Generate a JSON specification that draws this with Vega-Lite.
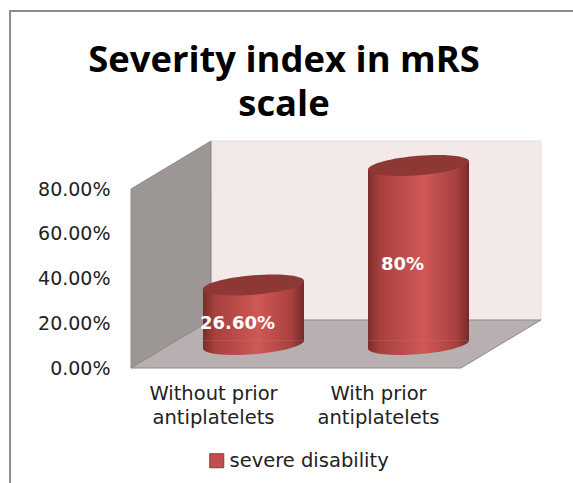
{
"$schema":"https://vega.github.io/schema/vega-lite/v6.json",
"width":330,"height":179,
"autosize":{"type":"none"},
"padding":{"left":131,"top":189,"right":112,"bottom":115},
"background":"#ffffff",
"config":{"view":{"stroke":null}},
"title":{"text":["Severity index in mRS","scale"],"font":"Open Sans","fontWeight":"bold","fontSize":36.4,"color":"#000000","anchor":"middle","frame":"group","dx":-12,"offset":-116,"lineHeight":44},
"datasets":{
"bars":[{"group":"Without prior antiplatelets","series":"severe disability","value":0.266,"label":"26.60%"},{"group":"With prior antiplatelets","series":"severe disability","value":0.8,"label":"80%"}],
"sidewall":[{"sx":0,"low":0,"high":0.8},{"sx":0.485,"low":0.2145,"high":1.0145}],
"backwall":[{"sx":0.485,"low":0.2145,"high":1.0145},{"sx":2.485,"low":0.2145,"high":1.0145}],
"floor":[{"sx":0,"low":0,"high":0},{"sx":0.485,"low":0,"high":0.2145},{"sx":2,"low":0,"high":0.2145},{"sx":2.485,"low":0.2145,"high":0.2145}],
"frame":[{"i":0,"sx":-0.733,"sy":-0.52},{"i":1,"sx":-0.733,"sy":1.5955},{"i":2,"sx":2.69,"sy":1.5955}]
},
"resolve":{"scale":{"x":"independent"}},
"layer":[
{"layer":[
{"data":{"name":"backwall"},"mark":{"type":"area","fill":"#f4e9e9","stroke":"#e4dcdc","strokeWidth":1},
"encoding":{"x":{"field":"sx","type":"quantitative","axis":null,"scale":{"domain":[0,2],"nice":false,"zero":false}},"y":{"field":"low","type":"quantitative","scale":{"domain":[0,0.8],"nice":false}},"y2":{"field":"high"}}},
{"data":{"name":"sidewall"},"mark":{"type":"area","fill":"#9c9695","stroke":"#8f8a8a","strokeWidth":1},
"encoding":{"x":{"field":"sx","type":"quantitative","axis":null,"scale":{"domain":[0,2],"nice":false,"zero":false}},"y":{"field":"low","type":"quantitative","scale":{"domain":[0,0.8],"nice":false}},"y2":{"field":"high"}}},
{"data":{"name":"floor"},"mark":{"type":"area","fill":"#b8b0b0","stroke":"#8f8a8a","strokeWidth":1},
"encoding":{"x":{"field":"sx","type":"quantitative","axis":null,"scale":{"domain":[0,2],"nice":false,"zero":false}},"y":{"field":"low","type":"quantitative","scale":{"domain":[0,0.8],"nice":false}},"y2":{"field":"high"}}},
{"data":{"name":"frame"},"mark":{"type":"line","stroke":"#8c8c8c","strokeWidth":2,"clip":false},
"encoding":{"x":{"field":"sx","type":"quantitative","axis":null,"scale":{"domain":[0,2],"nice":false,"zero":false}},"y":{"field":"sy","type":"quantitative","scale":{"domain":[0,0.8],"nice":false}},"order":{"field":"i"}}}
]},
{"data":{"name":"bars"},
"encoding":{
"x":{"field":"group","type":"nominal","sort":null,"scale":{"domain":["Without prior antiplatelets","With prior antiplatelets"],"paddingInner":0,"paddingOuter":0},
"axis":{"title":null,"domain":false,"ticks":false,"labelAngle":0,"labelPadding":16,"labelFont":"DejaVu Sans","labelFontSize":19.5,"labelColor":"#222222","labelLineHeight":24,"labelLimit":300,"labelExpr":"datum.value=='Without prior antiplatelets'?['Without prior','antiplatelets']:['With prior','antiplatelets']"}}
},
"layer":[
{"mark":{"type":"bar","size":101,"xOffset":40,"yOffset":-20,"y2Offset":-27.5},
"encoding":{"y":{"field":"value","type":"quantitative","scale":{"domain":[0,0.8],"nice":false},
"axis":{"title":null,"domain":false,"ticks":false,"grid":false,"values":[0,0.2,0.4,0.6,0.8],"format":".2%","labelPadding":21,"labelFont":"DejaVu Sans","labelFontSize":19,"labelColor":"#222222"}},
"y2":{"datum":0},
"color":{"field":"series","type":"nominal","scale":{"range":["#c0504d"]},
"legend":{"title":null,"orient":"none","legendX":76,"legendY":262,"symbolType":"square","symbolSize":196,"symbolStrokeColor":"#8c3836","symbolStrokeWidth":1,"labelFont":"DejaVu Sans","labelFontSize":19.5,"labelColor":"#222222","labelOffset":3}}}},
{"mark":{"type":"bar","size":101,"xOffset":40,"yOffset":-20,"y2Offset":-27.5,"fill":{"gradient":"linear","x1":0,"x2":1,"y1":0,"y2":0,"stops":[{"offset":0,"color":"#7a2e2c"},{"offset":0.12,"color":"#a8403e"},{"offset":0.55,"color":"#cf5856"},{"offset":0.88,"color":"#a8403e"},{"offset":1,"color":"#722c2a"}]}},
"encoding":{"y":{"field":"value","type":"quantitative"},"y2":{"datum":0}}},
{"mark":{"type":"point","filled":true,"opacity":1,"size":10201,"xOffset":40,"yOffset":-23.5,"strokeWidth":0,"shape":"M-1,-.08 L1,-.08 C1,.026 .552,.148 0,.192 C-.552,.236 -1,.186 -1,.08 Z","fill":{"gradient":"linear","x1":0,"x2":1,"y1":0,"y2":0,"stops":[{"offset":0,"color":"#7a2e2c"},{"offset":0.12,"color":"#a8403e"},{"offset":0.55,"color":"#cf5856"},{"offset":0.88,"color":"#a8403e"},{"offset":1,"color":"#722c2a"}]}},
"encoding":{"y":{"datum":0,"type":"quantitative"}}},
{"mark":{"type":"point","filled":true,"opacity":1,"size":10201,"xOffset":40,"yOffset":-23.5,"strokeWidth":0,"shape":"M-1,.08 L1,-.08 L1,.1 L-1,.1 Z","fill":{"gradient":"linear","x1":0,"x2":1,"y1":0,"y2":0,"stops":[{"offset":0,"color":"#7a2e2c"},{"offset":0.12,"color":"#a8403e"},{"offset":0.55,"color":"#cf5856"},{"offset":0.88,"color":"#a8403e"},{"offset":1,"color":"#722c2a"}]}},
"encoding":{"y":{"field":"value","type":"quantitative"}}},
{"mark":{"type":"point","filled":true,"opacity":1,"size":10201,"xOffset":40,"yOffset":-23.5,"strokeWidth":0,"fill":"#8e3836","shape":"M1,-.08 C1,.026 .552,.148 0,.192 C-.552,.236 -1,.186 -1,.08 C-1,-.026 -.552,-.148 0,-.192 C.552,-.236 1,-.186 1,-.08 Z"},
"encoding":{"y":{"field":"value","type":"quantitative"}}},
{"transform":[{"calculate":"datum.value/2","as":"mid"}],
"mark":{"type":"text","font":"DejaVu Sans","fontWeight":"bold","fontSize":18,"color":"#ffffff","xOffset":24,"yOffset":-14},
"encoding":{"y":{"field":"mid","type":"quantitative"},"text":{"field":"label"}}}
]}
]
}
